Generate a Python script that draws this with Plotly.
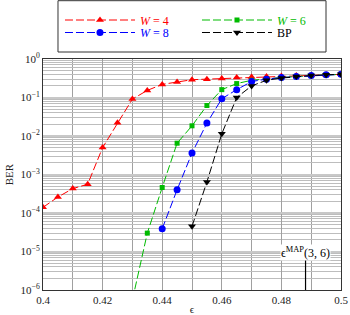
import plotly.graph_objects as go

# ---- data ----
x_w4 = [0.400, 0.405, 0.410, 0.415, 0.420, 0.425, 0.430, 0.435, 0.440, 0.445, 0.450,
        0.455, 0.460, 0.465, 0.470, 0.475, 0.480, 0.485, 0.490, 0.495, 0.500]
y_w4 = [1.4e-4, 2.6e-4, 4.3e-4, 5.6e-4, 5.0e-3, 2.2e-2, 9.1e-2, 0.153, 0.219, 0.252, 0.29,
        0.30, 0.31, 0.33, 0.34, 0.35, 0.36, 0.37, 0.38, 0.39, 0.40]

x_w6 = [0.430, 0.435, 0.440, 0.445, 0.450, 0.455, 0.460, 0.465, 0.470, 0.475, 0.480,
        0.485, 0.490, 0.495, 0.500]
y_w6 = [5.5e-7, 3.0e-5, 4.6e-4, 6.5e-3, 1.84e-2, 6.2e-2, 0.16, 0.23, 0.28, 0.31, 0.33,
        0.35, 0.37, 0.39, 0.40]

x_w8 = [0.440, 0.445, 0.450, 0.455, 0.460, 0.465, 0.470, 0.475, 0.480, 0.485, 0.490,
        0.495, 0.500]
y_w8 = [3.9e-5, 4.0e-4, 3.6e-3, 2.16e-2, 9.3e-2, 0.16, 0.26, 0.30, 0.33, 0.35, 0.37,
        0.39, 0.40]

x_bp = [0.450, 0.455, 0.460, 0.465, 0.470, 0.475, 0.480, 0.485, 0.490, 0.495, 0.500]
y_bp = [4.5e-5, 6.4e-4, 1.14e-2, 0.10, 0.20, 0.28, 0.32, 0.35, 0.37, 0.39, 0.40]

eps_map = 0.4881
map_line_y = [1e-6, 7e-6]

x_ticks = [0.40, 0.42, 0.44, 0.46, 0.48, 0.50]
x_ticktext = ["0.4", "0.42", "0.44", "0.46", "0.48", "0.5"]
y_ticks = [1, 1e-1, 1e-2, 1e-3, 1e-4, 1e-5, 1e-6]
y_ticktext = ["10<sup>0</sup>", "10<sup>−1</sup>", "10<sup>−2</sup>", "10<sup>−3</sup>",
              "10<sup>−4</sup>", "10<sup>−5</sup>", "10<sup>−6</sup>"]

FONT = "Liberation Serif, serif"
RED = "#ff0000"
GREEN = "#00bb00"
BLUE = "#0000ff"
BLACK = "#000000"
DASH = "8px,3px"

fig = go.Figure()

def add(x, y, color, symbol, size, name, legend):
    fig.add_trace(go.Scatter(
        x=x, y=y, mode="lines+markers", name=name, legend=legend,
        line=dict(color=color, width=1, dash=DASH),
        marker=dict(symbol=symbol, size=size, color=color),
    ))

add(x_w4, y_w4, RED, "triangle-up", 7, f'<span style="color:{RED}"><i>W</i> = 4</span>', "legend")
add(x_w6, y_w6, GREEN, "square", 5, f'<span style="color:{GREEN}"><i>W</i> = 6</span>', "legend")
add(x_w8, y_w8, BLUE, "circle", 7, f'<span style="color:{BLUE}"><i>W</i> = 8</span>', "legend2")
add(x_bp, y_bp, BLACK, "triangle-down", 7, "BP", "legend2")

fig.add_trace(go.Scatter(
    x=[eps_map, eps_map], y=map_line_y, mode="lines",
    line=dict(color="black", width=1.2), showlegend=False, hoverinfo="skip",
))

fig.add_annotation(
    x=eps_map, y=-5.03, xref="x", yref="y",
    text="ϵ<sup>MAP</sup>(3, 6)", showarrow=False,
    bgcolor="white", borderpad=0,
    font=dict(family=FONT, size=12, color="black"),
)

# legend frame
fig.add_shape(
    type="rect", xref="paper", yref="paper",
    x0=0.0503, x1=0.9497, y0=1.0303, y1=1.2524,
    line=dict(color="#333", width=1), fillcolor="white", layer="below",
)

legend_common = dict(
    orientation="h",
    x=0.057, xanchor="left",
    yref="container", yanchor="middle",
    borderwidth=0,
    bgcolor="rgba(0,0,0,0)",
    itemwidth=70,
    entrywidth=52, entrywidthmode="pixels",
    font=dict(family=FONT, size=12, color="black"),
    traceorder="normal",
)

fig.update_layout(
    width=350, height=315,
    margin=dict(l=43, r=9, t=59, b=25, autoexpand=False),
    paper_bgcolor="white", plot_bgcolor="white",
    font=dict(family=FONT, size=11, color="#222"),
    showlegend=True,
    legend=dict(legend_common, y=1 - 20 / 315),
    legend2=dict(legend_common, y=1 - 32.5 / 315),
    xaxis=dict(
        range=[0.4, 0.5],
        tickvals=x_ticks, ticktext=x_ticktext,
        showgrid=True, gridcolor="#a0a0a0", gridwidth=1,
        minor=dict(dtick=0.01, showgrid=True, gridcolor="#a0a0a0", gridwidth=1, ticks=""),
        showline=True, linecolor="#333", linewidth=1, mirror=True,
        ticks="", zeroline=False,
        title=dict(text="ϵ", font=dict(family=FONT, size=11), standoff=4),
        tickfont=dict(family=FONT, size=11),
    ),
    yaxis=dict(
        type="log", range=[-6, 0],
        tickvals=y_ticks, ticktext=y_ticktext,
        showgrid=True, gridcolor="#c8c8c8", gridwidth=2,
        minor=dict(dtick="D1", showgrid=True, gridcolor="#bdbdbd", gridwidth=0.6, ticks=""),
        showline=True, linecolor="#333", linewidth=1, mirror=True,
        ticks="", zeroline=False,
        title=dict(text="BER", font=dict(family=FONT, size=11), standoff=4),
        tickfont=dict(family=FONT, size=11),
    ),
)

fig.write_html("out.html", config={"displayModeBar": False},
               post_script="document.body.style.margin='0';")
